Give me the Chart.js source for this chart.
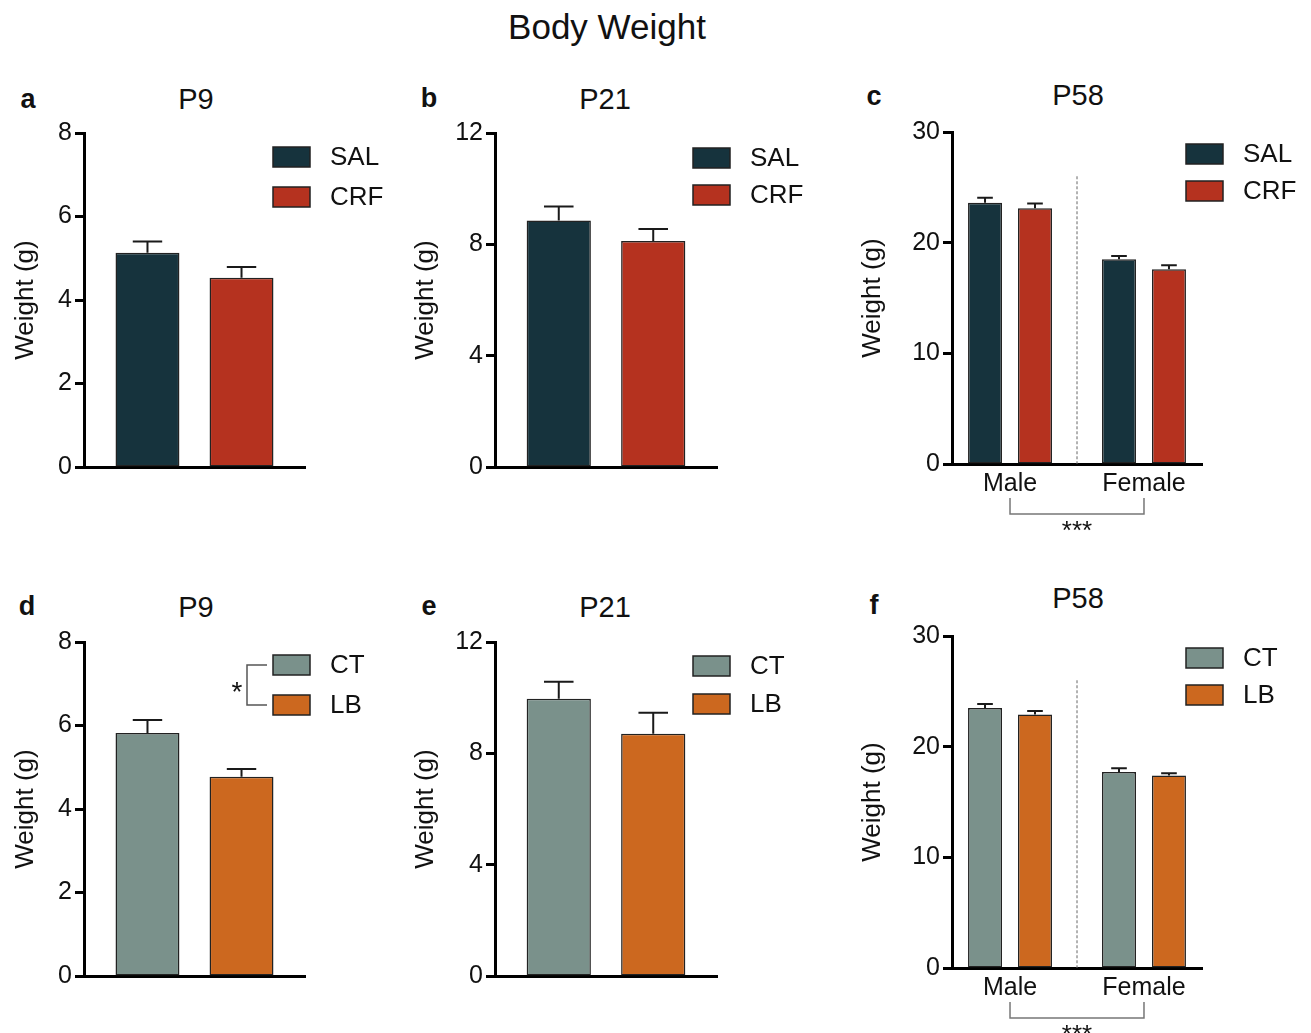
<!DOCTYPE html>
<html>
<head>
<meta charset="utf-8">
<title>Body Weight</title>
<script src="https://cdn.jsdelivr.net/npm/chart.js@4.4.1/dist/chart.umd.min.js"></script>
<style>
    body { margin: 0; width: 1311px; height: 1033px; background: #fff; position: relative; overflow: hidden;
           font-family: 'Liberation Sans', Arial, sans-serif; color: #111; }
    .txt { position: absolute; white-space: nowrap; transform: translate(-50%, -50%); line-height: 1; }
    .tag { font-weight: bold; font-size: 27px; }
    .ttl { font-size: 29px; }
    canvas { position: absolute; }
</style>
</head>
<body>
<div class="txt" style="left:607px;top:26px;font-size:35px">Body Weight</div>

<div class="txt tag" style="left:28px;top:99px">a</div>
<div class="txt tag" style="left:429px;top:98px">b</div>
<div class="txt tag" style="left:874px;top:96px">c</div>
<div class="txt tag" style="left:27px;top:606px">d</div>
<div class="txt tag" style="left:429px;top:606px">e</div>
<div class="txt tag" style="left:874px;top:605px">f</div>

<div class="txt ttl" style="left:196px;top:99px">P9</div>
<div class="txt ttl" style="left:605px;top:99px">P21</div>
<div class="txt ttl" style="left:1078px;top:95px">P58</div>
<div class="txt ttl" style="left:196px;top:607px">P9</div>
<div class="txt ttl" style="left:605px;top:607px">P21</div>
<div class="txt ttl" style="left:1078px;top:598px">P58</div>

<script>
    // 分组与刻度
    const groupsTop = ['SAL', 'CRF'];
    const groupsBottom = ['CT', 'LB'];
    const sexes = ['Male', 'Female'];
    const ticksP9 = [0, 2, 4, 6, 8];
    const ticksP21 = [0, 4, 8, 12];
    const ticksP58 = [0, 10, 20, 30];

    // 平均体重 (g)
    const p9Sal = [5.13],  p9Crf = [4.53];
    const p21Sal = [8.86], p21Crf = [8.12];
    const p58Sal = [23.6, 18.5], p58Crf = [23.1, 17.6];
    const p9Ct = [5.82],   p9Lb = [4.77];
    const p21Ct = [9.96],  p21Lb = [8.70];
    const p58Ct = [23.5, 17.7], p58Lb = [22.9, 17.4];

    // 标准误 (g)
    const p9SalSem = [0.27],  p9CrfSem = [0.26];
    const p21SalSem = [0.50], p21CrfSem = [0.43];
    const p58SalSem = [0.45, 0.30], p58CrfSem = [0.45, 0.35];
    const p9CtSem = [0.31],   p9LbSem = [0.19];
    const p21CtSem = [0.61],  p21LbSem = [0.76];
    const p58CtSem = [0.36, 0.36], p58LbSem = [0.33, 0.20];

    const colSal = '#16333d', colCrf = '#b5321f', colCt = '#7a918b', colLb = '#cc681f';
    const FONT = "'Liberation Sans', Arial, sans-serif";

    Chart.defaults.font.family = FONT;
    Chart.defaults.color = '#111';

    // 误差线、图例、性别分隔
    const decoPlugin = {
        id: 'deco',
        afterDatasetsDraw(chart, args, o) {
            const ctx = chart.ctx;
            const ys = chart.scales.y, xs = chart.scales.x, area = chart.chartArea;
            ctx.save();

            chart.data.datasets.forEach((ds, i) => {
                chart.getDatasetMeta(i).data.forEach((bar, j) => {
                    const raw = ds.data[j];
                    const v = typeof raw === 'object' ? raw.y : raw;
                    const top = ys.getPixelForValue(v + ds.sem[j]);
                    const cap = bar.width * 0.23;
                    ctx.strokeStyle = '#1a1a1a';
                    ctx.lineWidth = 2;
                    ctx.beginPath();
                    ctx.moveTo(bar.x, bar.y);
                    ctx.lineTo(bar.x, top);
                    ctx.moveTo(bar.x - cap, top);
                    ctx.lineTo(bar.x + cap, top);
                    ctx.stroke();
                });
            });

            if (o.split) {
                const mid = xs.getPixelForValue(0.5);
                ctx.strokeStyle = '#666';
                ctx.lineWidth = 1;
                ctx.setLineDash([3, 2]);
                ctx.beginPath();
                ctx.moveTo(mid, ys.getPixelForValue(o.split.top));
                ctx.lineTo(mid, area.bottom);
                ctx.stroke();
                ctx.setLineDash([]);

                const x0 = xs.getPixelForValue(0), x1 = xs.getPixelForValue(1);
                const y1 = area.bottom + 34, y2 = area.bottom + 50;
                ctx.strokeStyle = '#777';
                ctx.lineWidth = 1.5;
                ctx.beginPath();
                ctx.moveTo(x0, y1); ctx.lineTo(x0, y2); ctx.lineTo(x1, y2); ctx.lineTo(x1, y1);
                ctx.stroke();
                ctx.fillStyle = '#111';
                ctx.font = '26px ' + FONT;
                ctx.textAlign = 'center';
                ctx.textBaseline = 'alphabetic';
                ctx.fillText(o.split.sig, mid, area.bottom + 75);
            }

            const lg = o.legend;
            if (lg) {
                chart.data.datasets.forEach((ds, i) => {
                    const by = lg.y + i * lg.step;
                    ctx.fillStyle = ds.backgroundColor;
                    ctx.fillRect(lg.x, by, 37, 20);
                    ctx.strokeStyle = '#222';
                    ctx.lineWidth = 1.5;
                    ctx.strokeRect(lg.x, by, 37, 20);
                    ctx.fillStyle = '#111';
                    ctx.font = '26px ' + FONT;
                    ctx.textAlign = 'left';
                    ctx.textBaseline = 'middle';
                    ctx.fillText(ds.label, lg.x + 57, by + 11);
                });
                if (lg.sig) {
                    const bx = lg.x - 26, c1 = lg.y + 10, c2 = lg.y + lg.step + 10;
                    ctx.strokeStyle = '#555';
                    ctx.lineWidth = 1.5;
                    ctx.beginPath();
                    ctx.moveTo(lg.x - 6, c1); ctx.lineTo(bx, c1); ctx.lineTo(bx, c2); ctx.lineTo(lg.x - 6, c2);
                    ctx.stroke();
                    ctx.fillStyle = '#111';
                    ctx.font = '28px ' + FONT;
                    ctx.textAlign = 'center';
                    ctx.textBaseline = 'alphabetic';
                    ctx.fillText(lg.sig, bx - 10, (c1 + c2) / 2 + 16);
                }
            }
            ctx.restore();
        }
    };

    function makeDatasets(labels, colors, values, sems, bySex) {
        return labels.map((lab, i) => ({
            label: lab,
            data: bySex ? values[i].map((v, k) => ({ x: k, y: v })) : values[i],
            sem: sems[i],
            backgroundColor: colors[i],
            borderColor: '#222',
            borderWidth: 1.5,
            borderSkipped: false
        }));
    }

    function makePanel(p) {
        const cv = document.createElement('canvas');
        cv.width = p.w; cv.height = p.h;
        cv.style.left = p.left + 'px'; cv.style.top = p.top + 'px';
        cv.style.width = p.w + 'px'; cv.style.height = p.h + 'px';
        document.body.appendChild(cv);

        const areaL = p.area[0] - p.left, areaT = p.area[1] - p.top;
        const areaR = p.area[2] - p.left, areaB = p.area[3] - p.top;
        const titleLeft = p.titleX - p.left - 15.6;
        const xH = p.bySex ? 60 : 4;
        const axisBorder = { display: true, color: '#000', width: 3 };

        const xScale = p.bySex ? {
            type: 'linear', offset: false,
            min: -p.edge, max: sexes.length - 1 + p.edge,
            afterFit: s => { s.height = xH; },
            ticks: { stepSize: 1, includeBounds: false, padding: 5, font: { size: 25 }, color: '#111',
                     callback: v => sexes[v] || '' },
            grid: { display: false, drawTicks: false },
            border: axisBorder
        } : {
            type: 'category',
            afterFit: s => { s.height = xH; },
            ticks: { display: false },
            grid: { display: false, drawTicks: false },
            border: axisBorder
        };

        const yTicks = p.yTicks;
        new Chart(cv, {
            type: 'bar',
            data: {
                labels: p.bySex ? sexes : [p.name],
                datasets: p.datasets
            },
            options: {
                responsive: false,
                animation: false,
                devicePixelRatio: 1,
                layout: { padding: { left: titleLeft, top: areaT, right: p.w - areaR, bottom: p.h - areaB - xH } },
                datasets: { bar: { categoryPercentage: p.bySex ? 0.746 : 0.851, barPercentage: 0.68 } },
                scales: {
                    x: xScale,
                    y: {
                        min: yTicks[0], max: yTicks[yTicks.length - 1],
                        afterBuildTicks: s => { s.ticks = yTicks.map(v => ({ value: v })); },
                        afterFit: s => { s.width = areaL - titleLeft; },
                        ticks: { padding: 3, font: { size: 25 }, color: '#111' },
                        grid: { drawOnChartArea: false, drawTicks: true, tickLength: 9, tickWidth: 3, tickColor: '#000' },
                        border: axisBorder,
                        title: { display: true, text: 'Weight (g)', font: { size: 26, lineHeight: 1.2 }, padding: 0, color: '#111' }
                    }
                },
                plugins: {
                    legend: { display: false },
                    tooltip: { enabled: false },
                    deco: {
                        legend: { x: p.legend.x - p.left, y: p.legend.y - p.top, step: p.legend.step, sig: p.legend.sig },
                        split: p.split
                    }
                }
            },
            plugins: [decoPlugin]
        });
    }

    makePanel({ name: 'P9', left: 0, top: 60, w: 395, h: 460, area: [84, 133, 305, 467], titleX: 26,
        yTicks: ticksP9, legend: { x: 273, y: 147, step: 40 },
        datasets: makeDatasets(groupsTop, [colSal, colCrf], [p9Sal, p9Crf], [p9SalSem, p9CrfSem]) });

    makePanel({ name: 'P21', left: 400, top: 60, w: 420, h: 460, area: [495, 133, 717, 467], titleX: 426,
        yTicks: ticksP21, legend: { x: 693, y: 148, step: 37 },
        datasets: makeDatasets(groupsTop, [colSal, colCrf], [p21Sal, p21Crf], [p21SalSem, p21CrfSem]) });

    makePanel({ name: 'P58', left: 850, top: 60, w: 461, h: 480, area: [952, 132, 1202, 464], titleX: 873,
        yTicks: ticksP58, legend: { x: 1186, y: 144, step: 37 }, bySex: true, edge: 0.433,
        split: { top: 26, sig: '***' },
        datasets: makeDatasets(groupsTop, [colSal, colCrf], [p58Sal, p58Crf], [p58SalSem, p58CrfSem], true) });

    makePanel({ name: 'P9', left: 0, top: 570, w: 395, h: 460, area: [84, 642, 305, 976], titleX: 26,
        yTicks: ticksP9, legend: { x: 273, y: 655, step: 40, sig: '*' },
        datasets: makeDatasets(groupsBottom, [colCt, colLb], [p9Ct, p9Lb], [p9CtSem, p9LbSem]) });

    makePanel({ name: 'P21', left: 400, top: 570, w: 420, h: 460, area: [495, 642, 717, 976], titleX: 426,
        yTicks: ticksP21, legend: { x: 693, y: 656, step: 38 },
        datasets: makeDatasets(groupsBottom, [colCt, colLb], [p21Ct, p21Lb], [p21CtSem, p21LbSem]) });

    makePanel({ name: 'P58', left: 850, top: 570, w: 461, h: 463, area: [952, 636, 1202, 968], titleX: 873,
        yTicks: ticksP58, legend: { x: 1186, y: 648, step: 37 }, bySex: true, edge: 0.433,
        split: { top: 26, sig: '***' },
        datasets: makeDatasets(groupsBottom, [colCt, colLb], [p58Ct, p58Lb], [p58CtSem, p58LbSem], true) });
</script>
</body>
</html>
